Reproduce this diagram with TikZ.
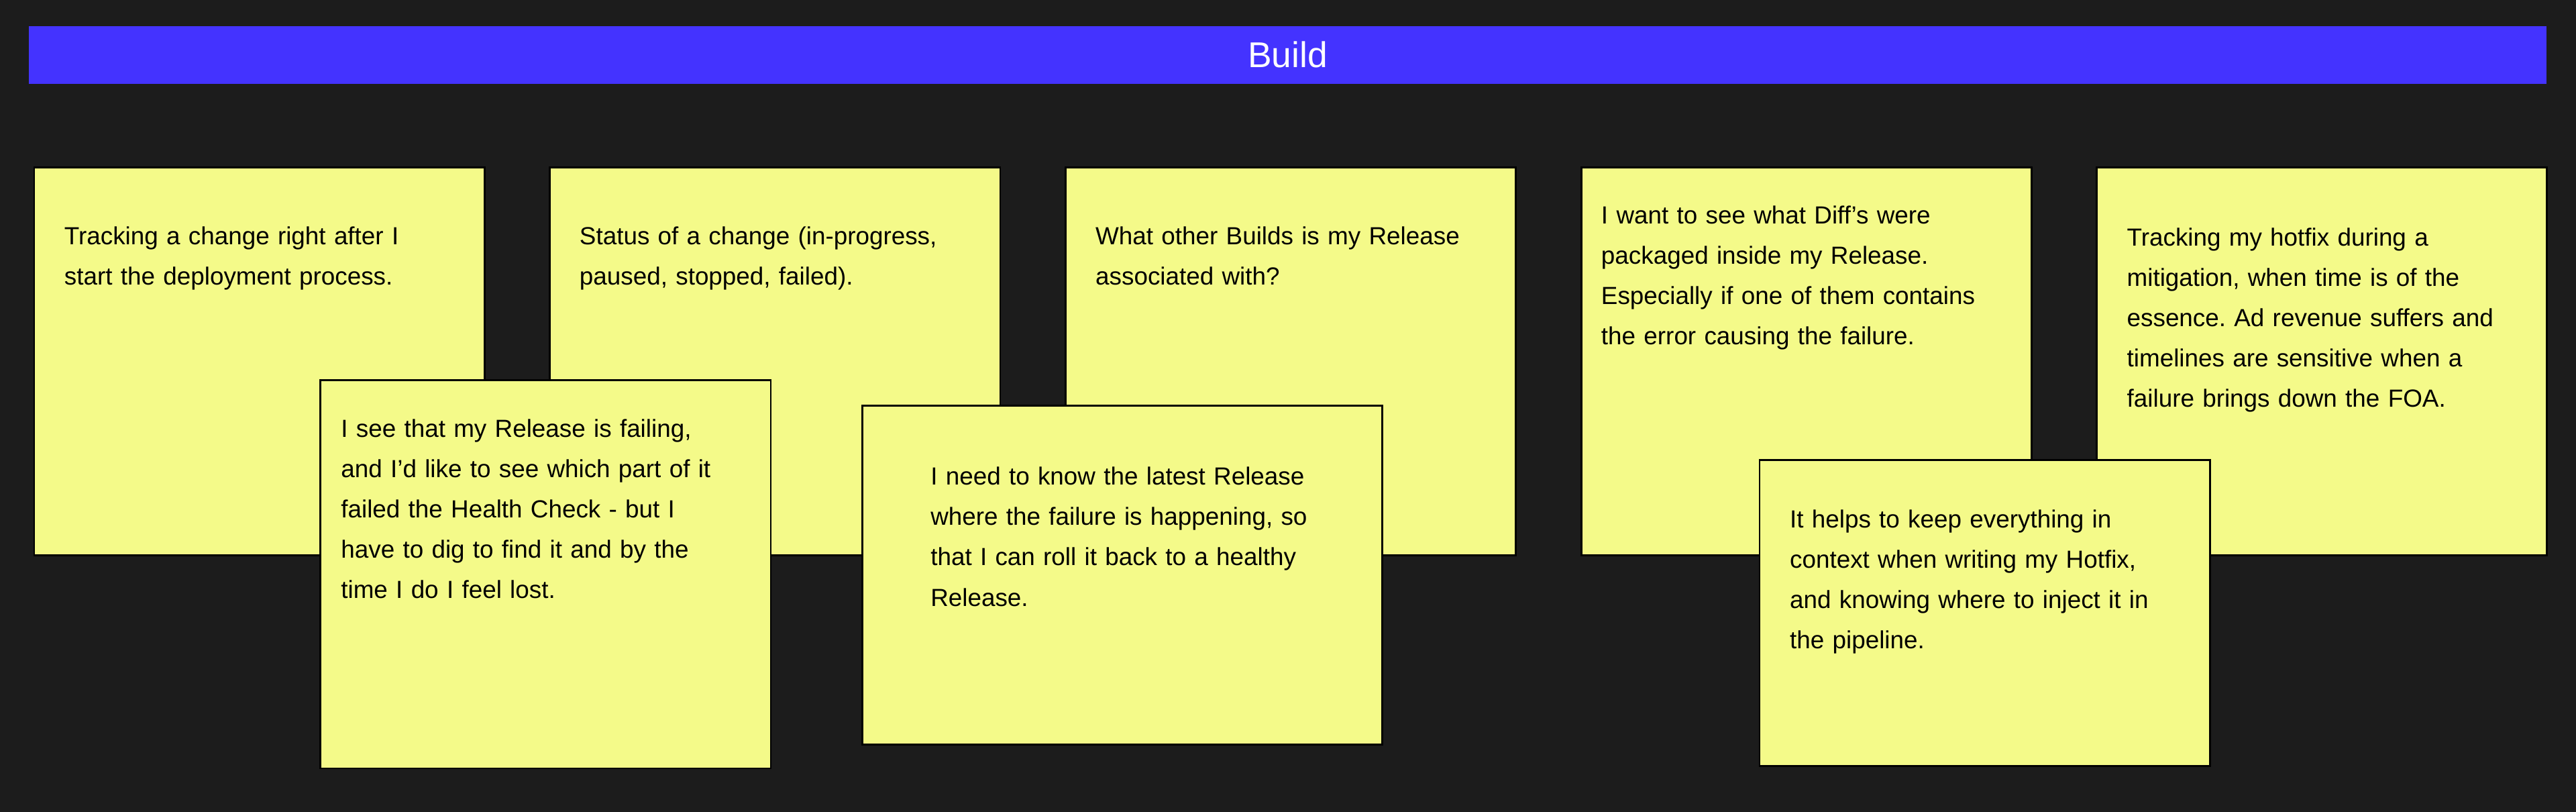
\documentclass[tikz,border=0pt]{standalone}
\usepackage{fontspec}
\setmainfont{Liberation Sans}
\usepackage{tikz}
\frenchspacing

% colours of the board
\definecolor{r28g28b28}{rgb}{0.109804,0.109804,0.109804}
\definecolor{r68g51b255}{rgb}{0.266667,0.200000,1.000000}
\definecolor{r244g250b137}{rgb}{0.956863,0.980392,0.537255}

\tikzset{
  titlebar/.style={fill=r68g51b255, inner sep=0pt, minimum width=38.3cm, minimum height=0.875cm,
    text=white, font=\fontsize{15.5pt}{18pt}\selectfont},
  sticky/.style={draw=black, line width=0.8pt, fill=r244g250b137, inner sep=0pt, anchor=north west,
    minimum width=6.85cm, minimum height=5.9cm},
  stickytext/.style={anchor=base west, inner sep=0pt, text width=7.5cm, align=left,
    font=\fontsize{10.7pt}{17.43pt}\selectfont}
}

\begin{document}
\begin{tikzpicture}[x=0.025cm,y=-0.025cm]
% Background of the board
\fill[r28g28b28] (0,0) rectangle (1568,494);
\useasboundingbox (0,0) rectangle (1568,494);

% Drawing title bar Build
\node[titlebar] (build) at (783.8,33.4) {Build};

% Sticky note 1
\node[sticky] (note1) at (20.3,101.2) {};
\node[stickytext] (text1) at (38.9,149) {Tracking a change right after I\\start the deployment process.};

% Sticky note 2
\node[sticky] (note2) at (334.2,101.2) {};
\node[stickytext] (text2) at (352.5,149) {Status of a change (in-progress,\\paused, stopped, failed).};

% Sticky note 3
\node[sticky] (note3) at (648.1,101.2) {};
\node[stickytext] (text3) at (666.6,149) {What other Builds is my Release\\associated with?};

% Sticky note 4
\node[sticky] (note4) at (962,101.2) {};
\node[stickytext] (text4) at (974.4,136.1) {I want to see what Diff’s were\\packaged inside my Release.\\Especially if one of them contains\\the error causing the failure.};

% Sticky note 5
\node[sticky] (note5) at (1275.6,101.2) {};
\node[stickytext] (text5) at (1294.4,149.5) {Tracking my hotfix during a\\mitigation, when time is of the\\essence. Ad revenue suffers and\\timelines are sensitive when a\\failure brings down the FOA.};

% Sticky note 6 (lying over notes 1 and 2)
\node[sticky] (note6) at (194.5,230.9) {};
\node[stickytext] (text6) at (207.3,266.1) {I see that my Release is failing,\\and I’d like to see which part of it\\failed the Health Check - but I\\have to dig to find it and by the\\time I do I feel lost.};

% Sticky note 7 (lying over note 3)
\node[sticky, minimum width=7.91cm, minimum height=5.15cm] (note7) at (524.3,246.3) {};
\node[stickytext] (text7) at (566.2,295.2) {I need to know the latest Release\\where the failure is happening, so\\that I can roll it back to a healthy\\Release.};

% Sticky note 8 (lying over notes 4 and 5)
\node[sticky, minimum height=4.65cm] (note8) at (1070.5,279.5) {};
\node[stickytext] (text8) at (1089.2,321) {It helps to keep everything in\\context when writing my Hotfix,\\and knowing where to inject it in\\the pipeline.};
\end{tikzpicture}
\end{document}
